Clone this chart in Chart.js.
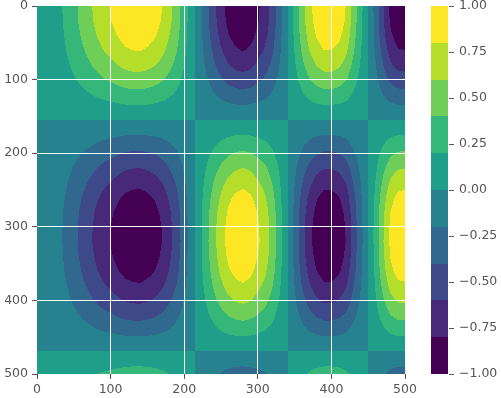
<!DOCTYPE html>
<html>
<head>
<meta charset="utf-8">
<script src="https://cdn.jsdelivr.net/npm/chart.js@4.4.1/dist/chart.umd.min.js"></script>
<style>
    html, body { margin: 0; padding: 0; background: #ffffff; }
    #wrap { width: 501px; height: 398px; }
</style>
</head>
<body>
<div id="wrap"><canvas id="contourChart" width="501" height="398"></canvas></div>
<script>
    // column profile of the field (read along the top row), every 10 units of x
    var xSamples = [0, 10, 20, 30, 40, 50, 60, 70, 80, 90, 100, 110, 120, 130, 140, 150, 160, 170, 180, 190,
        200, 210, 220, 230, 240, 250, 260, 270, 280, 290, 300, 310, 320, 330, 340, 350, 360, 370, 380, 390,
        400, 410, 420, 430, 440, 450, 460, 470, 480, 490, 500];
    var xProfile = [0.00, 0.03, 0.09, 0.16, 0.25, 0.35, 0.45, 0.55, 0.65, 0.74, 0.81, 0.89, 0.96, 0.99, 1.00, 0.96, 0.90, 0.80, 0.66, 0.50,
        0.30, 0.09, -0.12, -0.34, -0.54, -0.72, -0.87, -0.96, -1.00, -0.95, -0.83, -0.71, -0.52, -0.28, -0.01, 0.26, 0.52, 0.74, 0.90, 0.99,
        0.99, 0.93, 0.79, 0.52, 0.26, 0.00, -0.28, -0.58, -0.84, -0.97, -0.99];

    // row profile of the field (read down the x = 133 column), every 20 units of y
    var ySamples = [0, 20, 40, 60, 80, 100, 120, 140, 160, 180, 200, 220, 240, 260, 280, 300, 320, 340, 360, 380, 400, 420, 440, 460, 480, 500];
    var yProfile = [1.00, 0.98, 0.91, 0.81, 0.68, 0.52, 0.34, 0.15, -0.05, -0.25, -0.43, -0.60, -0.75, -0.87, -0.95, -0.99, -1.00, -0.96, -0.89, -0.78, -0.64, -0.47, -0.29, -0.09, 0.11, 0.30];

    // contour levels and the colour of each filled band
    var levels = [-1.0, -0.8, -0.6, -0.4, -0.2, 0.0, 0.2, 0.4, 0.6, 0.8, 1.0];
    var levelColors = ['#440154', '#482878', '#3e4989', '#31688e', '#26828e', '#1f9e89', '#35b779', '#6ece58', '#b5de2b', '#fde725'];

    var axisTicks = [0, 100, 200, 300, 400, 500];
    var colorbarTicks = [-1.0, -0.75, -0.5, -0.25, 0.0, 0.25, 0.5, 0.75, 1.0];

    function lerp(xsArr, vals, v) {
        if (v <= xsArr[0]) return vals[0];
        var n = xsArr.length - 1;
        if (v >= xsArr[n]) return vals[n];
        for (var i = 0; i < n; i++) {
            if (v <= xsArr[i + 1]) {
                var t = (v - xsArr[i]) / (xsArr[i + 1] - xsArr[i]);
                return vals[i] + t * (vals[i + 1] - vals[i]);
            }
        }
        return vals[n];
    }

    function bandOf(z) {
        for (var i = 0; i < levelColors.length - 1; i++) {
            if (z < levels[i + 1]) return i;
        }
        return levelColors.length - 1;
    }

    var contourFill = {
        id: 'contourFill',
        afterLayout: function (chart) {
            var cb = chart.scales.cb;
            cb.left = chart.chartArea.right + 44;
            cb.right = chart.width;
        },
        beforeDatasetsDraw: function (chart) {
            var ctx = chart.ctx, area = chart.chartArea;
            var xs = chart.scales.x, ys = chart.scales.y, cb = chart.scales.cb;
            var left = Math.round(area.left), right = Math.round(area.right);
            var top = Math.round(area.top), bottom = Math.round(area.bottom);
            var rowVal = [];
            for (var py = top; py < bottom; py++) {
                rowVal.push(lerp(ySamples, yProfile, ys.getValueForPixel(py + 0.5)));
            }
            ctx.save();
            for (var px = left; px < right; px++) {
                var colVal = lerp(xSamples, xProfile, xs.getValueForPixel(px + 0.5));
                var start = top, band = bandOf(colVal * rowVal[0]);
                for (var qy = top + 1; qy <= bottom; qy++) {
                    var b = qy < bottom ? bandOf(colVal * rowVal[qy - top]) : -1;
                    if (b !== band) {
                        ctx.fillStyle = levelColors[band];
                        ctx.fillRect(px, start, 1, qy - start);
                        start = qy;
                        band = b;
                    }
                }
            }
            // colour bar
            var bx = Math.round(area.right) + 26;
            for (var i = 0; i < levelColors.length; i++) {
                var y0 = cb.getPixelForValue(levels[i]);
                var y1 = cb.getPixelForValue(levels[i + 1]);
                ctx.fillStyle = levelColors[i];
                ctx.fillRect(bx, Math.round(y1), 17, Math.round(y0) - Math.round(y1));
            }
            ctx.restore();
        }
    };

    function hideEdge(c) {
        if (c.tick && (c.tick.value === 0 || c.tick.value === 500)) return 'rgba(255,255,255,0)';
        return '#ffffff';
    }

    Chart.defaults.font.family = 'DejaVu Sans';
    Chart.defaults.font.size = 12.5;
    Chart.defaults.color = '#555555';

    var ctx = document.getElementById('contourChart').getContext('2d');
    var contourChart = new Chart(ctx, {
        type: 'scatter',
        data: { datasets: [] },
        plugins: [contourFill],
        options: {
            responsive: false,
            animation: false,
            layout: { padding: { top: 6, left: 0, right: 0, bottom: 0 } },
            plugins: { legend: { display: false }, tooltip: { enabled: false } },
            scales: {
                x: {
                    type: 'linear',
                    position: 'bottom',
                    min: axisTicks[0],
                    max: axisTicks[axisTicks.length - 1],
                    afterBuildTicks: function (s) { s.ticks = axisTicks.map(function (v) { return { value: v }; }); },
                    ticks: { padding: 3, maxRotation: 0, autoSkip: false },
                    grid: { color: hideEdge, lineWidth: 1, tickLength: 5, tickColor: '#555555', z: 1 },
                    border: { display: false },
                    afterFit: function (s) { s.height = 24; s.paddingLeft = 0; s.paddingRight = 0; }
                },
                y: {
                    type: 'linear',
                    position: 'left',
                    reverse: true,
                    min: axisTicks[0],
                    max: axisTicks[axisTicks.length - 1],
                    afterBuildTicks: function (s) { s.ticks = axisTicks.map(function (v) { return { value: v }; }); },
                    ticks: { padding: 4, autoSkip: false },
                    grid: { color: hideEdge, lineWidth: 1, tickLength: 5, tickColor: '#555555', z: 1 },
                    border: { display: false },
                    afterFit: function (s) { s.width = 37; s.paddingTop = 0; s.paddingBottom = 0; }
                },
                cb: {
                    type: 'linear',
                    position: 'right',
                    min: -1,
                    max: 1,
                    afterBuildTicks: function (s) { s.ticks = colorbarTicks.map(function (v) { return { value: v }; }); },
                    ticks: {
                        padding: 5,
                        autoSkip: false,
                        callback: function (v) {
                            var s = Math.abs(v).toFixed(2);
                            return v < -1e-9 ? '\u2212' + s : s;
                        }
                    },
                    grid: { drawOnChartArea: false, tickLength: 5, tickColor: '#555555', lineWidth: 1 },
                    border: { display: false },
                    afterFit: function (s) { s.width = 96; s.paddingTop = 0; s.paddingBottom = 0; }
                }
            }
        }
    });
</script>
</body>
</html>
